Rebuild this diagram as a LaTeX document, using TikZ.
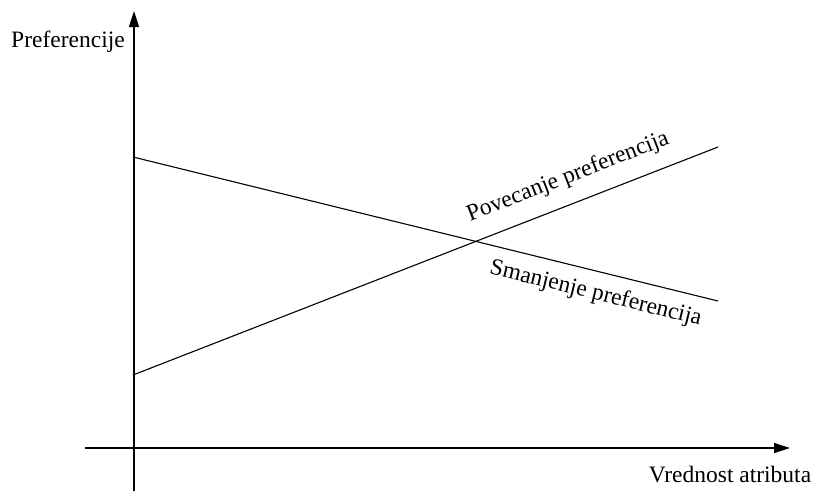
\documentclass[tikz,border=0pt]{standalone}
\usepackage{fontspec}
\setmainfont{Liberation Serif}
\usetikzlibrary{arrows.meta}
\begin{document}
\begin{tikzpicture}[x=1pt,y=-1pt,
  axis/.style={line width=1.2pt,-{Triangle[length=16pt,width=10pt]}},
  curve/.style={line width=1.1pt},
  lbl/.style={font=\fontsize{23.5}{28}\selectfont,inner sep=2pt}]
  \useasboundingbox (0,0) rectangle (815,491);
  % axes
  \coordinate (yb) at (134,491);
  \coordinate (yt) at (134,11);
  \coordinate (xl) at (85,448);
  \coordinate (xr) at (790,448);
  \draw[axis] (yb) -- (yt);
  \draw[axis] (xl) -- (xr);
  \node[lbl] (ylab) at (68,42) {Preferencije};
  \node[lbl] (xlab) at (730,475) {Vrednost atributa};
  % preference lines
  \coordinate (d0) at (133,157);
  \coordinate (d1) at (718,301);
  \coordinate (i0) at (133,375);
  \coordinate (i1) at (718,147);
  \draw[curve] (d0) -- node[lbl,pos=0.80,sloped,below=9pt] (dlab) {Smanjenje preferencija} (d1);
  \draw[curve] (i0) -- node[lbl,pos=0.76,sloped,above=13pt] (ilab) {Povecanje preferencija} (i1);
\end{tikzpicture}
\end{document}
